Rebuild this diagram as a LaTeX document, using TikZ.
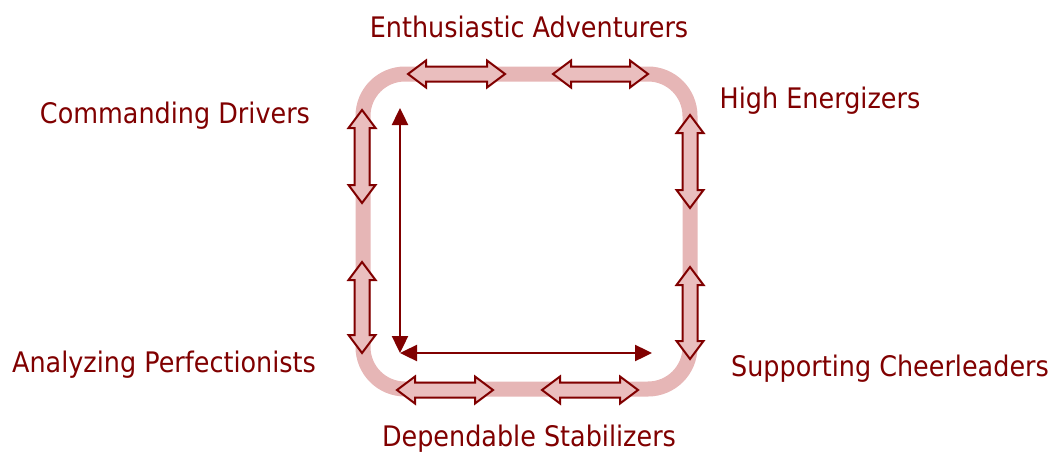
\documentclass[tikz,border=0pt]{standalone}
\usepackage{fontspec}
\setmainfont{DejaVu Sans}[FakeStretch=0.9]
\usetikzlibrary{arrows.meta}
\definecolor{dred}{RGB}{128,0,0}
\definecolor{bandpink}{RGB}{230,182,182}
\definecolor{arrowpink}{RGB}{234,190,190}
\tikzset{
  lbl/.style={text=dred, font=\fontsize{28.3}{32}\selectfont, anchor=base, inner sep=0pt},
  band/.style={draw=bandpink, line width=15pt, rounded corners=42pt},
  dblarrow/.style={draw=dred, fill=arrowpink, line width=2pt, line join=miter},
  axis/.style={draw=dred, line width=2.4pt, {Triangle[length=17pt,width=16pt]}-{Triangle[length=17pt,width=16pt]}}
}
% double arrow polygon: #1 = name of centre coordinate, #2 = length, #3 = rotation
\newcommand\dblarrowat[3]{%
  \begin{scope}[shift={(#1)}, rotate=#3]
    \pgfmathsetmacro\hl{#2/2}
    \pgfmathsetmacro\hb{#2/2-18}
    \path[dblarrow] (-\hl,0) -- (-\hb,-13.5) -- (-\hb,-7.5) -- (\hb,-7.5) -- (\hb,-13.5)
      -- (\hl,0) -- (\hb,13.5) -- (\hb,7.5) -- (-\hb,7.5) -- (-\hb,13.5) -- cycle;
  \end{scope}}
\begin{document}
\begin{tikzpicture}[x=1pt,y=-1pt]
\useasboundingbox (0,0) rectangle (1052,455);
% band
\draw[band] (363,74) rectangle (690,389);
% centres of the double arrows
\coordinate (t1) at (456.5,74);
\coordinate (t2) at (600.5,74);
\coordinate (b1) at (445,390);
\coordinate (b2) at (590,390);
\coordinate (l1) at (362,156.5);
\coordinate (l2) at (362,307.5);
\coordinate (r1) at (690,161.5);
\coordinate (r2) at (690,313);
\dblarrowat{t1}{97}{0}
\dblarrowat{t2}{95}{0}
\dblarrowat{b1}{96}{0}
\dblarrowat{b2}{96}{0}
\dblarrowat{l1}{93}{90}
\dblarrowat{l2}{91}{90}
\dblarrowat{r1}{93}{90}
\dblarrowat{r2}{92}{90}
% axes
\coordinate (O) at (400,353);
\coordinate (T) at (400,108);
\coordinate (R) at (652,353);
\draw[axis] (T) -- (O);
\draw[axis] (O) -- (R);
% labels
\node[lbl] (ea) at (529,37) {Enthusiastic Adventurers};
\node[lbl] (cd) at (175,123) {Commanding Drivers};
\node[lbl] (he) at (820,108) {High Energizers};
\node[lbl] (ap) at (164,372) {Analyzing Perfectionists};
\node[lbl] (sc) at (890,376) {Supporting Cheerleaders};
\node[lbl] (ds) at (529,446) {Dependable Stabilizers};
\end{tikzpicture}
\end{document}
